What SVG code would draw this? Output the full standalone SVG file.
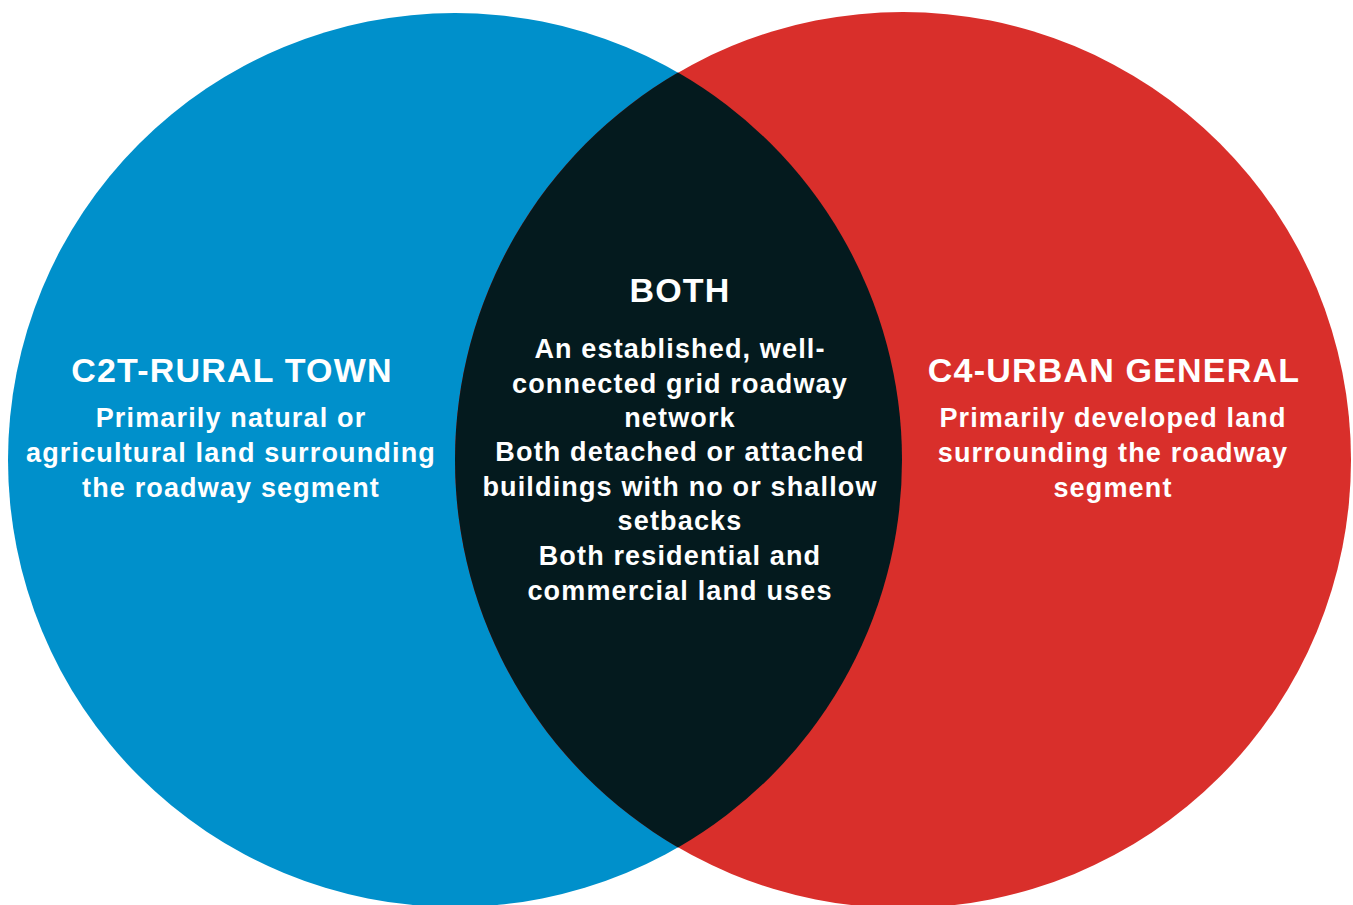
<svg xmlns="http://www.w3.org/2000/svg" width="1353" height="905" viewBox="0 0 1353 905">
<style>
text{font-family:"Liberation Sans",Arial,sans-serif;font-weight:bold;fill:#ffffff;text-anchor:middle}
.t{font-size:34px;letter-spacing:1.2px}
.b{font-size:27px;letter-spacing:1.15px}
</style>
<rect width="1353" height="905" fill="#ffffff"/>
<g id="rural">
<circle cx="455" cy="460" r="447" fill="#0090CB"/>
</g>
<g id="urban">
<circle cx="903" cy="460" r="448" fill="#D92F2B"/>
</g>
<g id="both">
<path d="M678,72.6 A448,448 0 0 0 678,847.4 A447,447 0 0 0 678,72.6 Z" fill="#041A1E"/>
</g>
<g id="connectors"></g>
<g id="rural-text">
<text class="t" x="232" y="382">C2T-RURAL TOWN</text>
<text class="b" x="231" y="427">Primarily natural or</text>
<text class="b" x="231" y="462">agricultural land surrounding</text>
<text class="b" x="231" y="497">the roadway segment</text>
</g>
<g id="both-text">
<text class="t" x="680" y="302">BOTH</text>
<text class="b" x="680" y="358">An established, well-</text>
<text class="b" x="680" y="393">connected grid roadway</text>
<text class="b" x="680" y="427">network</text>
<text class="b" x="680" y="461">Both detached or attached</text>
<text class="b" x="680" y="496">buildings with no or shallow</text>
<text class="b" x="680" y="530">setbacks</text>
<text class="b" x="680" y="565">Both residential and</text>
<text class="b" x="680" y="600">commercial land uses</text>
</g>
<g id="urban-text">
<text class="t" x="1114" y="382">C4-URBAN GENERAL</text>
<text class="b" x="1113" y="427">Primarily developed land</text>
<text class="b" x="1113" y="462">surrounding the roadway</text>
<text class="b" x="1113" y="497">segment</text>
</g>
</svg>
